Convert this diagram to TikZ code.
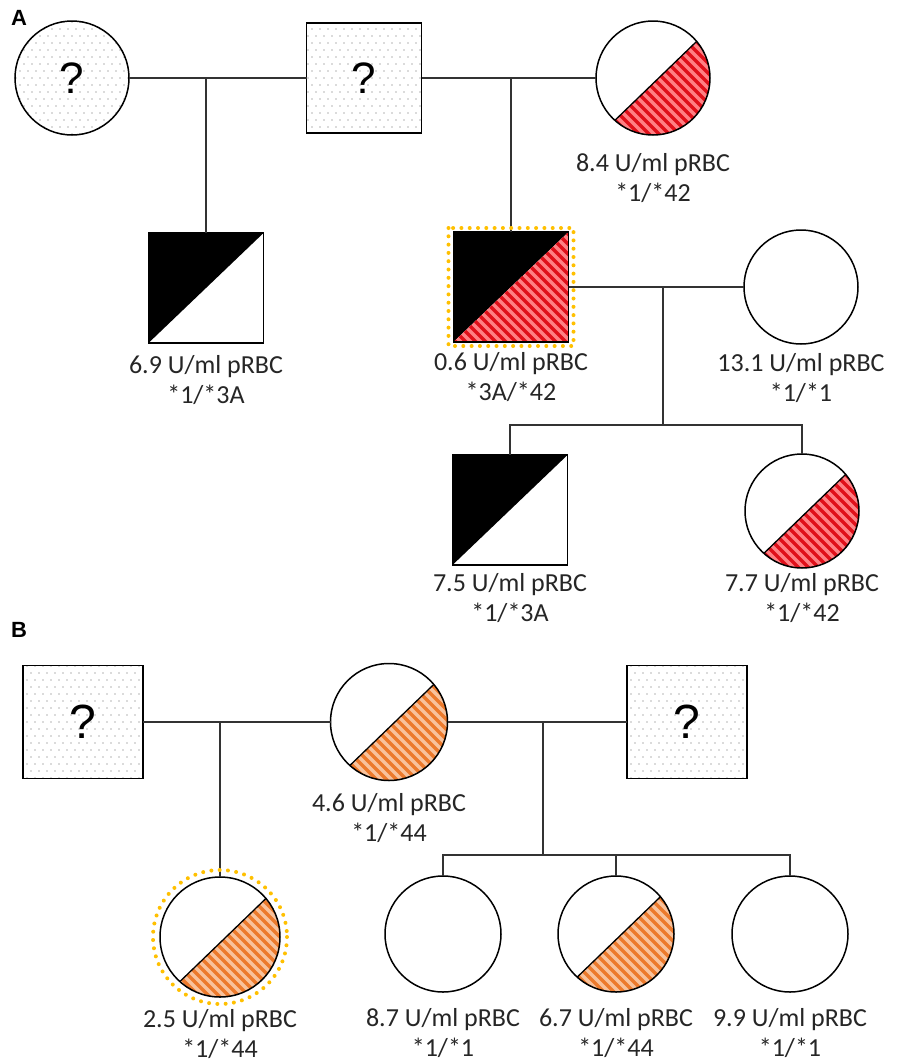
\documentclass[tikz,border=0pt]{standalone}
\usepackage{fontspec}
\setmainfont{Carlito}
\newfontfamily\qfont{Liberation Sans}
\usetikzlibrary{calc}
\definecolor{redbg}{HTML}{FF8084}
\definecolor{redst}{HTML}{E0101A}
\definecolor{orbg}{HTML}{F8C29C}
\definecolor{orst}{HTML}{EC7A2C}
\definecolor{gold}{HTML}{FFC000}
\definecolor{dotc}{HTML}{B8B8B8}
\definecolor{txt}{HTML}{262626}
\definecolor{linec}{HTML}{333333}
\newcommand\mystripes[2]{%
  \fill[#1] ($(path picture bounding box.center)+(-90,-90)$) rectangle ($(path picture bounding box.center)+(90,90)$);
  \foreach \k in {-20,...,20}{\draw[#2, line width=3.4pt] ($(path picture bounding box.center)+({\k*10-90},-90)$) -- ++(180,180);}}
\tikzset{
  indiv/.style={draw=black, line width=1.5pt, inner sep=0pt, outer sep=0pt, fill=white},
  msq/.style={indiv, rectangle, minimum width=115pt, minimum height=110pt},
  msqB/.style={indiv, rectangle, minimum width=120pt, minimum height=113pt},
  fcirc/.style={indiv, circle, minimum size=#1},
  qmark/.style={font=\qfont\fontsize{44}{44}\selectfont},
  qmarkB/.style={font=\qfont\fontsize{48}{48}\selectfont},
  speckle/.style={path picture={
    \foreach \j in {-9,...,9}{\foreach \i in {-9,...,9}{
      \fill[dotc] ($(path picture bounding box.center)+({\i*8+4*mod(\j,2)},{\j*7})$) circle (0.9);}}}},
  halfblack/.style={path picture={
    \fill[black] (path picture bounding box.south west) -- (path picture bounding box.north west) -- (path picture bounding box.north east) -- cycle;}},
  blackred/.style={path picture={
    \fill[black] (path picture bounding box.south west) -- (path picture bounding box.north west) -- (path picture bounding box.north east) -- cycle;
    \begin{scope}
      \clip (path picture bounding box.south west) -- (path picture bounding box.south east) -- (path picture bounding box.north east) -- cycle;
      \mystripes{redbg}{redst}
    \end{scope}}},
  seg/.style n args={3}{path picture={
    \begin{scope}
      \clip ($(path picture bounding box.center)+(-40:#1)$) arc[start angle=-40, end angle=132, radius=#1] -- cycle;
      \mystripes{#2}{#3}
    \end{scope}
    \draw[black, line width=1.3pt] ($(path picture bounding box.center)+(-40:#1)$) -- ($(path picture bounding box.center)+(132:#1)$);}},
  lab/.style={font=\fontsize{26}{29.5}\selectfont, text=txt, align=center, inner sep=0pt},
  conn/.style={draw=linec, line width=1.5pt},
  golddot/.style={draw=gold, line width=4pt, dash pattern=on 0pt off 8.3pt, line cap=round},
  panel/.style={font=\qfont\bfseries\fontsize{22}{22}\selectfont, inner sep=0pt}
}
\begin{document}
\begin{tikzpicture}[x=1pt, y=-1pt]
\useasboundingbox[fill=white] (0,0) rectangle (899,1063);

% ---------- Panel A ----------
\node[panel] (lA) at (19,18) {A};
\node[fcirc=114pt, speckle, qmark] (fA1) at (72,78) {?};
\node[msq, speckle, qmark] (mA1) at (364,78) {?};
\node[fcirc=114pt, seg={57}{redbg}{redst}] (fA2) at (653,78) {};
\node[lab] (tA2) at (653,178) {8.4 U/ml pRBC\\*1/*42};

\node[msq, halfblack] (mA2) at (206,288) {};
\node[lab] (tA3) at (206,380) {6.9 U/ml pRBC\\*1/*3A};

\node[msq, blackred] (mA3) at (511,287) {};
\node[lab] (tA4) at (511,377) {0.6 U/ml pRBC\\*3A/*42};

\node[fcirc=114pt] (fA3) at (801,287) {};
\node[lab] (tA5) at (801,378) {13.1 U/ml pRBC\\*1/*1};

\node[msq, halfblack] (mA4) at (510,510) {};
\node[lab] (tA6) at (510,598) {7.5 U/ml pRBC\\*1/*3A};

\node[fcirc=114pt, seg={57}{redbg}{redst}] (fA4) at (802,511) {};
\node[lab] (tA7) at (802,598) {7.7 U/ml pRBC\\*1/*42};

\draw[conn] (fA1.east) -- (mA1.west);
\draw[conn] (mA1.east) -- (fA2.west);
\draw[conn] (mA2.north |- fA1.east) -- (mA2.north);
\draw[conn] (mA3.north |- mA1.east) -- (mA3.north);
\draw[conn] (mA3.east) -- (fA3.west);
\coordinate (sibA) at (663,425);
\draw[conn] (sibA |- mA3.east) -- (sibA);
\draw[conn] (mA4.north) -- (mA4.north |- sibA) -- (fA4.north |- sibA) -- (fA4.north);

\draw[golddot] ($(mA3.north west)+(-5,-4)$) rectangle ($(mA3.south east)+(5,4)$);

% ---------- Panel B ----------
\node[panel] (lB) at (19,630) {B};
\node[msqB, speckle, qmarkB] (mB1) at (83,722) {?};
\node[fcirc=117pt, seg={58.5}{orbg}{orst}] (fB1) at (389,722) {};
\node[lab] (tB1) at (389,818) {4.6 U/ml pRBC\\*1/*44};
\node[msqB, speckle, qmarkB] (mB2) at (687,722) {?};

\node[fcirc=120pt, seg={60}{orbg}{orst}] (fB2) at (220,937) {};
\node[lab] (tB2) at (220,1034) {2.5 U/ml pRBC\\*1/*44};

\node[fcirc=116pt] (fB3) at (443,934) {};
\node[lab] (tB3) at (443,1033) {8.7 U/ml pRBC\\*1/*1};
\node[fcirc=116pt, seg={58}{orbg}{orst}] (fB4) at (616,934) {};
\node[lab] (tB4) at (616,1033) {6.7 U/ml pRBC\\*1/*44};
\node[fcirc=116pt] (fB5) at (790,934) {};
\node[lab] (tB5) at (790,1033) {9.9 U/ml pRBC\\*1/*1};

\draw[conn] (mB1.east) -- (fB1.west);
\draw[conn] (fB1.east) -- (mB2.west);
\draw[conn] (fB2.north |- mB1.east) -- (fB2.north);
\coordinate (sibB) at (543,855);
\draw[conn] (sibB |- fB1.east) -- (sibB);
\draw[conn] (fB3.north) -- (fB3.north |- sibB) -- (fB5.north |- sibB) -- (fB5.north);
\draw[conn] (fB4.north |- sibB) -- (fB4.north);

\draw[golddot] (fB2.center) circle (67);
\end{tikzpicture}
\end{document}
